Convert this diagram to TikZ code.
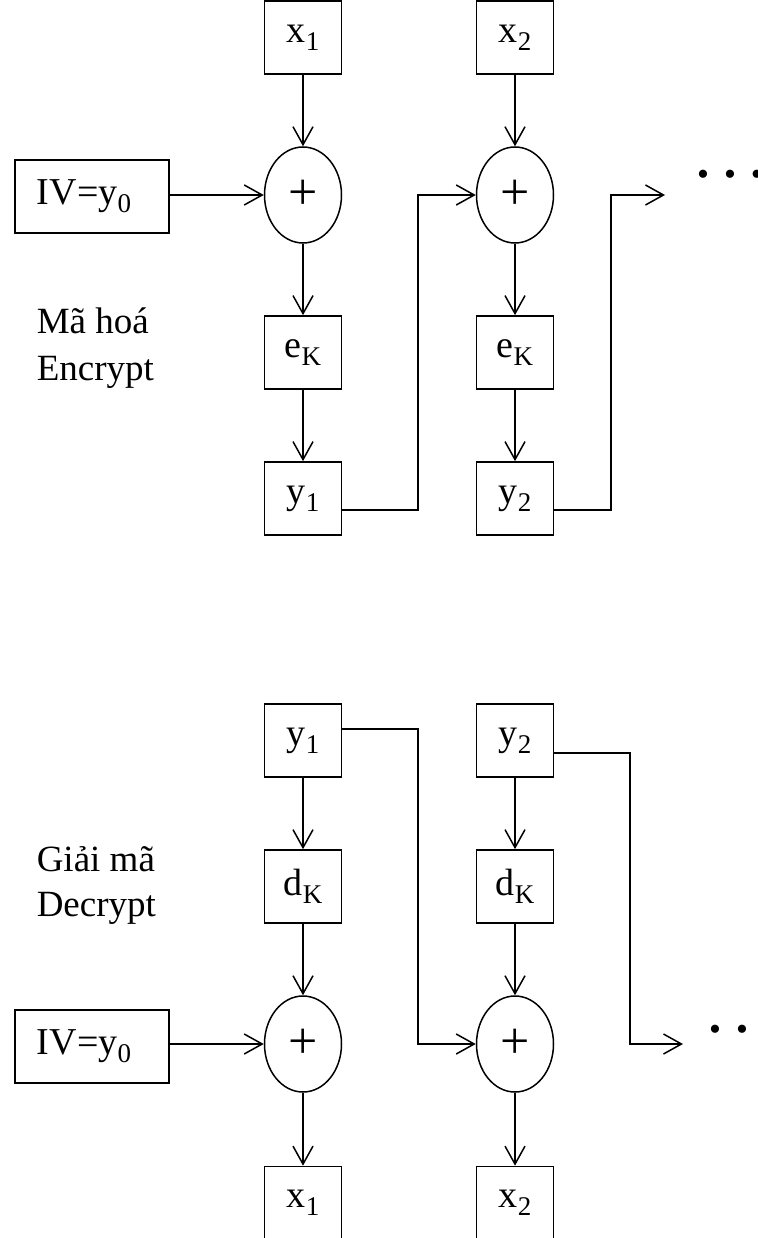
\documentclass[tikz,border=0pt]{standalone}
\usepackage{fontspec}
\setmainfont{Liberation Serif}
\usetikzlibrary{shapes.geometric,arrows.meta}
\newcommand{\sbs}[1]{\raisebox{-8pt}{\fontsize{27}{27}\selectfont #1}}
\begin{document}
\begin{tikzpicture}[x=1pt,y=-1pt,line width=1.5pt,
  box/.style={draw,rectangle,line width=1.7pt,minimum width=77pt,minimum height=73pt,inner sep=0pt,font=\fontsize{38}{38}\selectfont},
  xorop/.style={draw,ellipse,minimum width=77pt,minimum height=96pt,inner sep=0pt,font=\fontsize{52}{52}\selectfont},
  arr/.style={-{Straight Barb[length=18pt,width=20pt,line width=1.5pt]}},
  lbl/.style={anchor=base west,inner sep=0pt,font=\fontsize{37}{37}\selectfont},
  dots/.style={inner sep=0pt,font=\fontsize{34}{34}\selectfont}]
\useasboundingbox (0,0) rectangle (757,1238);
% ---------- Encrypt ----------
\node[box] (tx1) at (303,37.5) {x\sbs{1}};
\node[box] (tx2) at (515,37.5) {x\sbs{2}};
\node[xorop] (te1) at (303,195) {+};
\node[xorop] (te2) at (515,195) {+};
\node[box,minimum width=154pt] (tiv) at (92,196.5) {IV=y\sbs{0}\kern16pt};
\node[box] (tek1) at (303,352.5) {e\sbs{K}};
\node[box] (tek2) at (515,352.5) {e\sbs{K}};
\node[box] (ty1) at (303,498.5) {y\sbs{1}};
\node[box] (ty2) at (515,498.5) {y\sbs{2}};
\coordinate (tk1) at (418,195);
\coordinate (tk2) at (611,195);
\coordinate (tend) at (665,195);
\node[dots] (tdots) at (730,178) {•\hspace{15pt}•\hspace{15pt}•};
\node[lbl] (tlab1) at (36,333) {Mã hoá};
\node[lbl] (tlab2) at (36,380) {Encrypt};
\draw[arr] (tx1) -- (te1);
\draw[arr] (tx2) -- (te2);
\draw[arr] (tiv.east |- te1) -- (te1);
\draw[arr] (te1) -- (tek1);
\draw[arr] (te2) -- (tek2);
\draw[arr] (tek1) -- (ty1);
\draw[arr] (tek2) -- (ty2);
\draw[arr] ([yshift=-11.5pt]ty1.east) -| (tk1) -- (te2.west);
\draw[arr] ([yshift=-11.5pt]ty2.east) -| (tk2) -- (tend);
% ---------- Decrypt ----------
\node[box] (by1) at (303,740.5) {y\sbs{1}};
\node[box] (by2) at (515,740.5) {y\sbs{2}};
\node[box] (bd1) at (303,886.5) {d\sbs{K}};
\node[box] (bd2) at (515,886.5) {d\sbs{K}};
\node[xorop] (be1) at (303,1044) {+};
\node[xorop] (be2) at (515,1044) {+};
\node[box,minimum width=154pt] (biv) at (92,1046.5) {IV=y\sbs{0}\kern16pt};
\node[box] (bx1) at (303,1203) {x\sbs{1}};
\node[box] (bx2) at (515,1203) {x\sbs{2}};
\coordinate (bk1) at (418,1044);
\coordinate (bk2) at (630,1044);
\coordinate (bend) at (683,1044);
\node[dots] (bdots) at (742,1033) {•\hspace{15pt}•\hspace{15pt}•};
\node[lbl] (blab1) at (36,871) {Giải mã};
\node[lbl] (blab2) at (36,916) {Decrypt};
\draw[arr] (by1) -- (bd1);
\draw[arr] (by2) -- (bd2);
\draw[arr] (bd1) -- (be1);
\draw[arr] (bd2) -- (be2);
\draw[arr] (biv.east |- be1) -- (be1);
\draw[arr] (be1) -- (bx1);
\draw[arr] (be2) -- (bx2);
\draw[arr] ([yshift=11.5pt]by1.east) -| (bk1) -- (be2.west);
\draw[arr] ([yshift=-12.5pt]by2.east) -| (bk2) -- (bend);
\end{tikzpicture}
\end{document}
